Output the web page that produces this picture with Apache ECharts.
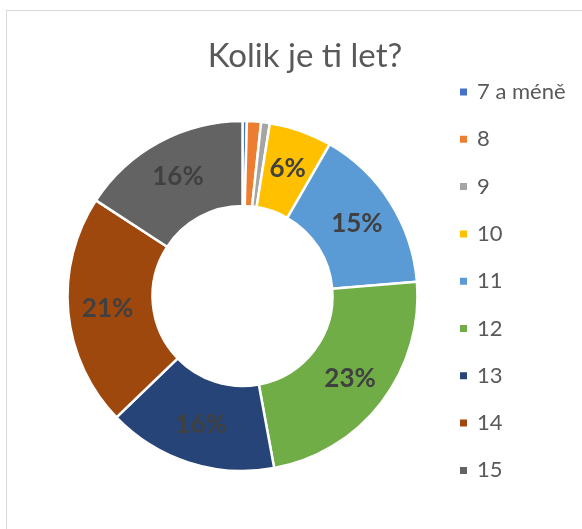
<!DOCTYPE html>
<html>
<head>
<meta charset="utf-8">
<script src="https://cdn.jsdelivr.net/npm/echarts@6/dist/echarts.min.js"></script>
<style>
  html, body { margin: 0; padding: 0; background: #ffffff; }
  #frame { position: absolute; left: 6px; top: 10px; width: 600px; height: 540px;
           border-left: 1px solid #d9d9d9; border-top: 1px solid #d9d9d9; }
  #chart { position: absolute; left: 0; top: 0; width: 582px; height: 529px; }
</style>
</head>
<body>
<div id="frame"></div>
<div id="chart"></div>
<script>
const titleText = 'Kolik je ti let?';
const categories = ['7 a méně', '8', '9', '10', '11', '12', '13', '14', '15'];
const values = [0.4, 1.3, 0.8, 5.8, 15.4, 23.4, 15.7, 21.4, 15.8];
const colors = ['#4472C4', '#ED7D31', '#A5A5A5', '#FFC000', '#5B9BD5', '#70AD47', '#264478', '#9E480E', '#636363'];

const FONT = 'Lato, "Open Sans", sans-serif';
const chart = echarts.init(document.getElementById('chart'), null, { renderer: 'canvas' });
chart.setOption({
  backgroundColor: 'transparent',
  animation: false,
  color: colors,
  title: {
    text: titleText,
    left: 300,
    textAlign: 'center',
    top: 35,
    textStyle: { fontFamily: FONT, fontSize: 33, fontWeight: 'normal', color: '#595959' }
  },
  legend: {
    orient: 'vertical',
    left: 453,
    top: 75,
    itemWidth: 9,
    itemHeight: 9,
    itemGap: 23.3,
    icon: 'rect',
    data: categories,
    textStyle: { fontFamily: FONT, fontSize: 22, color: '#595959', lineHeight: 24, padding: [0, 0, 0, 4] }
  },
  series: [{
    type: 'pie',
    center: [242.5, 296],
    radius: [90, 175],
    startAngle: 90,
    clockwise: true,
    avoidLabelOverlap: false,
    itemStyle: { borderColor: '#ffffff', borderWidth: 2.5 },
    label: {
      show: true,
      position: 'inside',
      fontFamily: FONT,
      fontSize: 26,
      fontWeight: 'bold',
      color: '#404040',
      formatter: function (p) { return p.percent < 2 ? '' : Math.round(p.percent) + '%'; }
    },
    labelLine: { show: false },
    emphasis: { disabled: true },
    data: categories.map((c, i) => ({ name: c, value: values[i] }))
  }]
});
</script>
</body>
</html>
